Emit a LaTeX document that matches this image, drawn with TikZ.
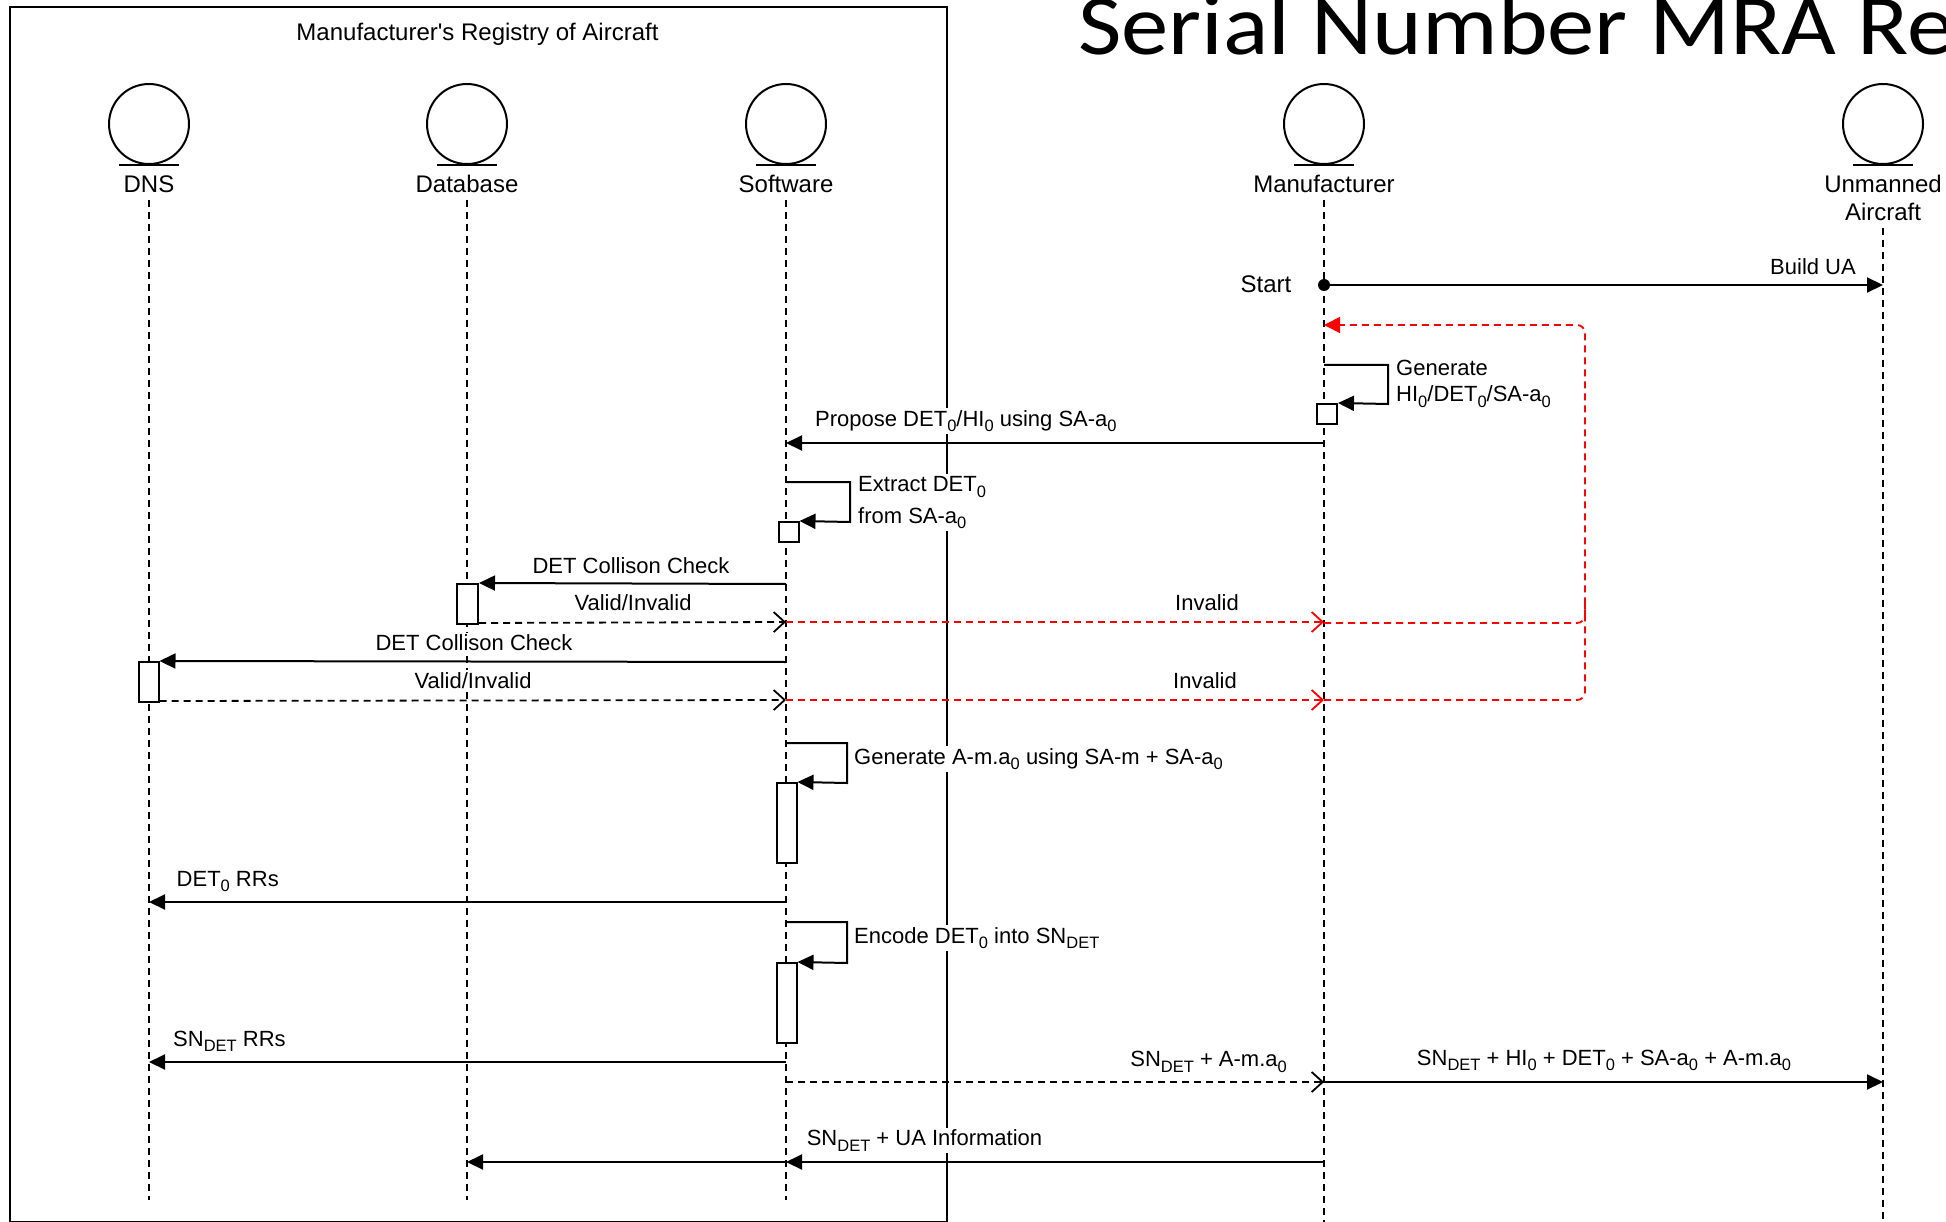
\documentclass[tikz,border=0pt]{standalone}
\usepackage{fontspec}
\setmainfont{Liberation Sans}
\newfontfamily\titlefont{Carlito}
\usetikzlibrary{arrows.meta}
\newcommand{\lowr}[1]{\raisebox{-5.5pt}{\fontsize{16.5}{16.5}\selectfont #1}}
\begin{document}
\begin{tikzpicture}[x=1pt,y=-1pt,
  every node/.style={font=\fontsize{22}{26}\selectfont, text=black},
  actor/.style={circle, draw, line width=2pt, minimum size=80pt, inner sep=0pt},
  actlbl/.style={font=\fontsize{24}{28}\selectfont, inner sep=0pt, align=center},
  lifeline/.style={line width=1.5pt, dash pattern=on 7pt off 5pt},
  actbox/.style={draw, fill=white, line width=2pt, minimum width=20pt, inner sep=0pt},
  msg/.style={line width=2pt, -{Triangle[length=16pt,width=15pt]}},
  reply/.style={line width=1.8pt, dash pattern=on 7pt off 5pt, -{Straight Barb[length=11pt,width=20pt,line width=1.8pt]}},
  redreply/.style={reply, draw=red},
  redloop/.style={line width=1.8pt, draw=red, dash pattern=on 7pt off 5pt, rounded corners=8pt},
  lbl/.style={fill=white, inner xsep=2pt, inner ysep=2pt},
]
\useasboundingbox (0,0) rectangle (1946,1222);
\clip (0,0) rectangle (1946,1222);

% frame
\node[draw, line width=2pt, minimum width=937pt, minimum height=1215pt, anchor=north west, inner sep=0pt] (frame) at (9,6) {};
\node[actlbl, anchor=base] (frametitle) at (477.5,40.5) {Manufacturer\textquotesingle s Registry of Aircraft};

% big title
\node[anchor=base west, inner sep=0pt, font=\titlefont\fontsize{86}{90}\selectfont] (ttl) at (1078,55) {\scalebox{1.1}[1]{Serial Number MRA Re}};

% actors
\foreach \n/\x in {dns/149, db/467, sw/786, mf/1324, ua/1883}{
  \node[actor] (\n) at (\x,124) {};
  \draw[line width=2pt] ([xshift=-30pt]\n.south) -- ([xshift=30pt]\n.south);
}
\node[actlbl, anchor=base] (dnsl) at (149,193) {DNS};
\node[actlbl, anchor=base] (dbl) at (467,193) {Database};
\node[actlbl, anchor=base] (swl) at (786,193) {Software};
\node[actlbl, anchor=base] (mfl) at (1324,193) {Manufacturer};
\node[actlbl, anchor=base] (ual) at (1883,221) {Unmanned\\Aircraft};

% lifelines
\draw[lifeline] (dns |- 0,200) -- (dns |- 0,1200);
\draw[lifeline] (db |- 0,200) -- (db |- 0,1200);
\draw[lifeline] (sw |- 0,200) -- (sw |- 0,1200);
\draw[lifeline] (mf |- 0,200) -- (mf |- 0,1222);
\draw[lifeline] (ua |- 0,228) -- (ua |- 0,1222);

% activation boxes
\node[actbox, minimum height=20pt] (mfact) at (1327,414) {};
\node[actbox, minimum height=20pt] (swacta) at (788.5,532) {};
\node[actbox, minimum height=40pt, minimum width=21pt] (dbact) at (467.5,604) {};
\node[actbox, minimum height=40pt] (dnsact) at (148.5,682) {};
\node[actbox, minimum height=80pt] (swactb) at (786.5,823) {};
\node[actbox, minimum height=80pt] (swactc) at (786.5,1003) {};

% start
\fill (mf |- 0,285) circle (6pt);
\node[font=\fontsize{24}{28}\selectfont, anchor=base, inner sep=0pt] (start) at (1266,293) {Start};
\draw[msg] (mf |- 0,285) -- (ua |- 0,285);
\node[lbl, anchor=base] (buildua) at (1813,275) {Build UA};

% red retry loops
\draw[redloop, -{Triangle[length=16pt,width=16pt]}] (mf |- 0,623) -- (1585,623) -- (1585,325) -- (mf |- 0,325);
\draw[redloop] (mf |- 0,700) -- (1585,700) -- (1585,600);

% generate at manufacturer
\draw[msg] (mf |- 0,365) -- (1388,365) -- (1388,404) -- (mfact.north east);
\node[lbl, anchor=base west, align=left] (genl) at (1394,402) {Generate\\HI\lowr{0}/DET\lowr{0}/SA-a\lowr{0}};

% propose
\draw[msg] (mf |- 0,443) -- (sw |- 0,443);
\node[lbl, anchor=base west] (propl) at (813,426) {Propose DET\lowr{0}/HI\lowr{0} using SA-a\lowr{0}};

% extract
\draw[msg] (sw |- 0,482) -- (850,482) -- (850,522) -- (swacta.north east);
\node[lbl, anchor=base west, align=left] (extl) at (856,523) {Extract DET\lowr{0}\\[5.5pt]from SA-a\lowr{0}};

% collision check database
\draw[msg] (sw |- 0,584) -- (dbact.north east);
\node[lbl, anchor=base] (cc1) at (631,573) {DET Collison Check};
\draw[reply] ([yshift=2pt]dbact.south east) -- (sw |- 0,622);
\node[lbl, anchor=base] (vi1) at (633,610.7) {Valid/Invalid};
\draw[redreply] (sw |- 0,622) -- (mf |- 0,622);
\node[lbl, anchor=base] (inv1) at (1207,610.7) {Invalid};

% collision check dns
\draw[msg] (sw |- 0,662) -- (dnsact.north east);
\node[lbl, anchor=base] (cc2) at (474,650.7) {DET Collison Check};
\draw[reply] ([yshift=2pt]dnsact.south east) -- (sw |- 0,700);
\node[lbl, anchor=base] (vi2) at (473,688) {Valid/Invalid};
\draw[redreply] (sw |- 0,700) -- (mf |- 0,700);
\node[lbl, anchor=base] (inv2) at (1205,688) {Invalid};

% generate A-m.a0
\draw[msg] (sw |- 0,743) -- (847,743) -- (847,783) -- (swactb.north east);
\node[lbl, anchor=base west] (genam) at (852,764) {Generate A-m.a\lowr{0} using SA-m + SA-a\lowr{0}};

% DET0 RRs
\draw[msg] (sw |- 0,902) -- (dns |- 0,902);
\node[lbl, anchor=base west] (detrr) at (174.5,886) {DET\lowr{0} RRs};

% encode
\draw[msg] (sw |- 0,922) -- (847,922) -- (847,963) -- (swactc.north east);
\node[lbl, anchor=base west] (encl) at (852,943) {Encode DET\lowr{0} into SN\lowr{DET}};

% SN RRs
\draw[msg] (sw |- 0,1062) -- (dns |- 0,1062);
\node[lbl, anchor=base west] (snrr) at (171,1046) {SN\lowr{DET} RRs};

% SN + A-m.a0
\draw[reply] (sw |- 0,1082) -- (mf |- 0,1082);
\node[lbl, anchor=base east] (snam) at (1289,1066.7) {SN\lowr{DET} + A-m.a\lowr{0}};
\draw[msg] (mf |- 0,1082) -- (ua |- 0,1082);
\node[lbl, anchor=base] (snall) at (1604,1065) {SN\lowr{DET} + HI\lowr{0} + DET\lowr{0} + SA-a\lowr{0} + A-m.a\lowr{0}};

% SN + UA information
\draw[msg] (mf |- 0,1162) -- (sw |- 0,1162);
\draw[msg] (sw |- 0,1162) -- (db |- 0,1162);
\node[lbl, anchor=base west] (snua) at (804.6,1145.7) {SN\lowr{DET} + UA Information};
\end{tikzpicture}
\end{document}
